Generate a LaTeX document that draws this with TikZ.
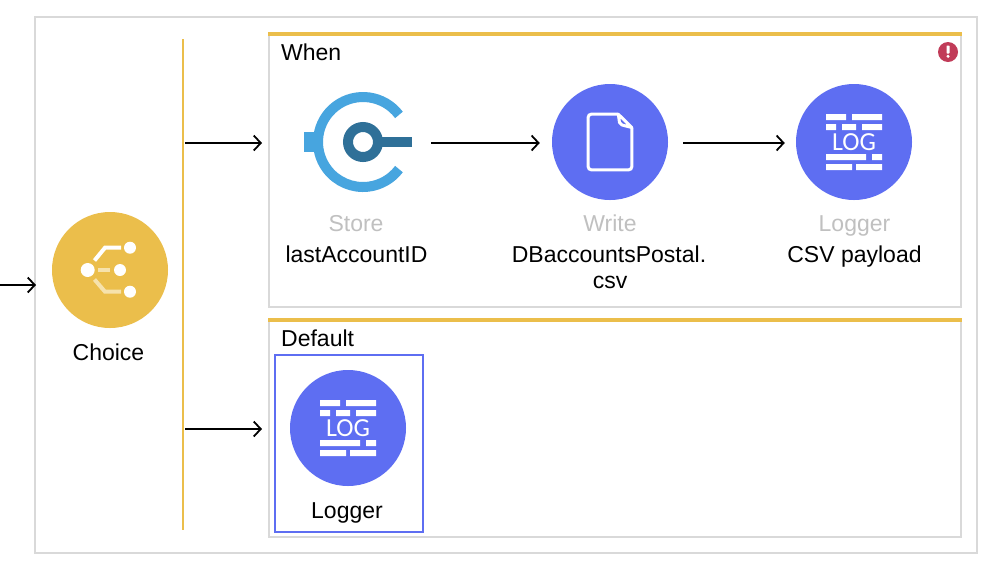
\documentclass[tikz,border=0pt]{standalone}
\usepackage{fontspec}
\setmainfont{Liberation Sans}
\newfontfamily\logfont{Carlito}
\usetikzlibrary{arrows.meta}
\definecolor{boxgray}{HTML}{D9D9D9}
\definecolor{choicey}{HTML}{EBBE4B}
\definecolor{fadey}{HTML}{F6E2AC}
\definecolor{flowblue}{HTML}{5E6EF2}
\definecolor{storelight}{HTML}{47A5DF}
\definecolor{storedark}{HTML}{2F7098}
\definecolor{errred}{HTML}{C13B58}
\definecolor{mutedtext}{HTML}{C0C0C0}
\tikzset{
  x=1pt,y=-1pt,
  frame/.style={draw=boxgray,line width=2pt,fill=white,inner sep=0pt,outer sep=0pt,anchor=north west},
  topbar/.style={draw=none,fill=choicey},
  flowarrow/.style={draw=black,line width=1.8pt,-{Straight Barb[length=7pt,width=15pt,line width=1.8pt]}},
  roundicon/.style={circle,minimum size=116pt,inner sep=0pt},
  label/.style={font=\fontsize{23}{27}\selectfont,text=black,inner sep=0pt,anchor=base},
  muted/.style={label,text=mutedtext},
  heading/.style={font=\fontsize{23}{27}\selectfont,text=black,inner sep=0pt,anchor=base west},
  wbar/.style={fill=white,draw=none},
}
\newcommand{\logicon}[1]{%
  \begin{scope}[shift={(#1)}]
    \fill[wbar] (-28,-28) rectangle (-8,-22) (-2,-28) rectangle (28,-22);
    \fill[wbar] (-28,-18) rectangle (-18,-12) (-12,-18) rectangle (2,-12) (8,-18) rectangle (28,-12);
    \fill[wbar] (-28,12) rectangle (12,18) (18,12) rectangle (28,18);
    \fill[wbar] (-28,22) rectangle (-2,28) (2,22) rectangle (28,28);
    \node[inner sep=0pt,text=white,font=\logfont\fontsize{26}{26}\selectfont] at (0,0.5) {LOG};
  \end{scope}}
\begin{document}
\begin{tikzpicture}
\useasboundingbox (0,0) rectangle (994,566);
\fill[white] (0,0) rectangle (994,566);
% frames
\node[frame,minimum width=942pt,minimum height=536pt] (outer) at (35,17) {};
\node[frame,minimum width=692pt,minimum height=274pt] (when) at (269,33) {};
\node[frame,minimum width=692pt,minimum height=218pt] (default) at (269,319) {};
\fill[topbar] (268,32) rectangle (962,36);
\fill[topbar] (268,318) rectangle (962,322);
\node[heading] (whenlabel) at (281,60.2) {When};
\node[heading] (defaultlabel) at (281,346.2) {Default};
% selection
\node[draw=flowblue,line width=1.5pt,outer sep=0pt,anchor=north west,minimum width=148pt,minimum height=177pt,inner sep=0pt] (selected) at (275,355) {};
% bar
\node[fill=choicey,minimum width=2pt,minimum height=491pt,inner sep=0pt,anchor=north] (bar) at (183,39) {};
% error
\node[circle,fill=errred,minimum size=20pt,inner sep=0pt] (err) at (948,52) {};
\fill[white,rounded corners=0.6pt] (946.5,45.5) rectangle (949.5,53.5);
\fill[white] (948,56.3) circle (1.7);
% choice
\node[roundicon,fill=choicey] (choice) at (110,270) {};
\draw[white,line width=4pt] (94.5,260.5) -- (105,247.7) -- (121,247.7);
\draw[fadey,line width=4pt] (98,270) -- (110,270);
\draw[fadey,line width=4pt] (94.5,279.5) -- (105,291.7) -- (121,291.7);
\fill[white] (87.7,270) circle (7) (120,270) circle (6) (130,247.7) circle (6) (130,291.7) circle (6);
\node[label] (choicetext) at (108.5,360) {Choice};
% store
\node[inner sep=0pt,minimum width=108pt,minimum height=100pt] (store) at (358,142) {};
\draw[storelight,line width=10pt] (363,142) ++(-37:45) arc[start angle=-37,end angle=-323,radius=45];
\fill[storelight] (304,132) rectangle (316,152);
\draw[storedark,line width=10pt] (363,142) circle (15);
\fill[storedark] (376,137.3) rectangle (412,147);
\node[muted] (storetop) at (356,231.8) {Store};
\node[label] (storebottom) at (356.5,262.2) {lastAccountID};
% write
\node[roundicon,fill=flowblue] (write) at (610,142) {};
\draw[white,line width=3pt,rounded corners=3pt] (618.3,114.2) -- (588.2,114.2) -- (588.2,169.8) -- (631.8,169.8) -- (631.8,127.5);
\draw[white,line width=3pt,line join=round] (618.3,114.2) -- (631.8,127.5) -- (622,125) -- (619.5,122.5) -- cycle;
\node[muted] (writetop) at (610,231.8) {Write};
\node[label] (writebottom) at (609,262.2) {DBaccountsPostal.};
\node[label] (writebottomb) at (610,288) {csv};
% logger 1
\node[roundicon,fill=flowblue] (logger) at (854,142) {};
\logicon{854,142}
\node[muted] (loggertop) at (854.5,231.8) {Logger};
\node[label] (loggerbottom) at (854.5,262.2) {CSV payload};
% logger 2
\node[roundicon,fill=flowblue] (loggerb) at (348,428) {};
\logicon{348,428}
\node[label] (loggerbtext) at (347,518) {Logger};
% connectors
\coordinate (entry) at (0,285);
\coordinate (barwhen) at (185,143);
\coordinate (bardefault) at (185,429);
\draw[flowarrow,shorten >=-1pt] (entry) -- (entry -| outer.west);
\draw[flowarrow,shorten >=7pt] (barwhen) -- (barwhen -| when.west);
\draw[flowarrow,shorten >=7pt] (bardefault) -- (bardefault -| default.west);
\draw[flowarrow,shorten <=19pt,shorten >=12pt] (store.east) ++(0,1) -- (write.west |- barwhen);
\draw[flowarrow,shorten <=15pt,shorten >=11pt] (write.east) ++(0,1) -- (logger.west |- barwhen);
\end{tikzpicture}
\end{document}
